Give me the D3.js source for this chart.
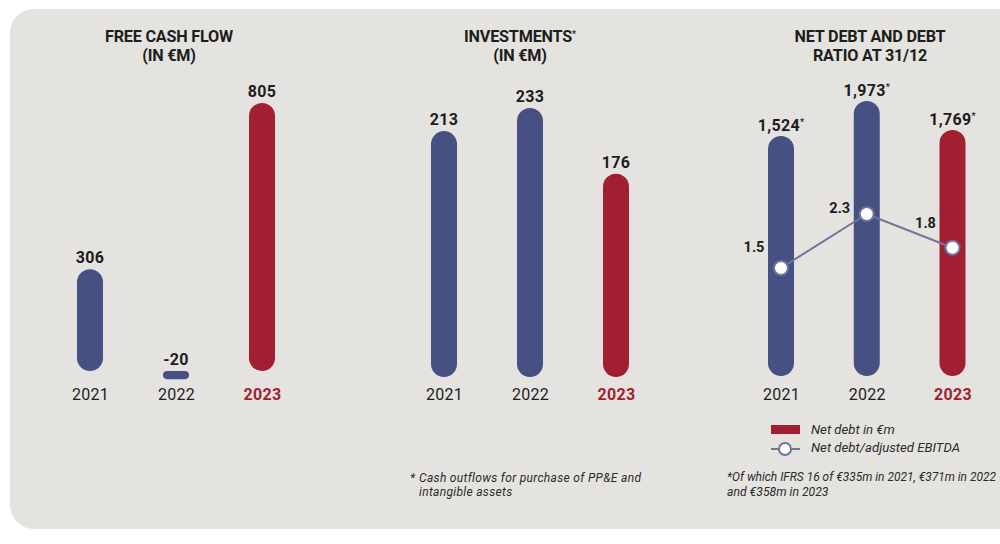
<!DOCTYPE html>
<html>
<head>
<meta charset="utf-8">
<script src="https://cdn.jsdelivr.net/npm/d3@7"></script>
<style>
  html, body { margin: 0; padding: 0; background: #fff; }
  svg { display: block; }
  text { font-family: Roboto, sans-serif; fill: #1d1d1b; }
</style>
</head>
<body>
<svg id="chart" width="1000" height="544"></svg>
<script>
const years = ['2021', '2022', '2023'];

const cashFlow = [306, -20, 805];
const cashFlowLabels = ['306', '-20', '805'];

const investments = [213, 233, 176];
const investmentLabels = ['213', '233', '176'];

// bar lengths as drawn in the picture: the 2021 bar is longer than its printed 1,524
const netDebtBars = [1722, 1973, 1765];
const netDebtLabels = ['1,524', '1,973', '1,769'];

const debtRatio = [1.5, 2.3, 1.8];
const debtRatioLabels = ['1.5', '2.3', '1.8'];

const BLUE = '#475082';
const RED = '#a11f30';
const LINE = '#6f7499';

const svg = d3.select('#chart');

svg.append('rect')
    .attr('x', 10).attr('y', 9)
    .attr('width', 1040).attr('height', 520)
    .attr('rx', 24)
    .attr('fill', '#e4e3e0');

let barColor = (i) => i === 2 ? RED : BLUE;

let drawTitle = (cx, lines, star) => {
    lines.forEach((l, i) => {
        let t = svg.append('text')
            .attr('x', cx).attr('y', 41.5 + i * 19.5)
            .attr('text-anchor', 'middle')
            .style('font-size', '16.2px')
            .style('font-weight', 700)
            .style('letter-spacing', '-0.2px')
            .text(l);
        if (star && i === 0) {
            t.append('tspan')
                .attr('dy', -5)
                .style('font-size', '9px')
                .text('*');
        }
    });
};

let drawPanel = (opts) => {
    let x = d3.scalePoint().domain(years).range(opts.xRange);
    let y = d3.scaleLinear().domain([0, opts.max]).range([opts.base, opts.top]);
    let w = 26;

    let g = svg.append('g');

    g.selectAll('rect')
        .data(opts.values)
        .join('rect')
        .attr('x', (d, i) => x(years[i]) - w / 2)
        .attr('y', d => Math.min(y(d), y(0)))
        .attr('width', w)
        .attr('height', d => Math.abs(y(d) - y(0)) + (d < 0 ? 1.5 : 0))
        .attr('rx', d => Math.min(13, (Math.abs(y(d) - y(0)) + (d < 0 ? 1.5 : 0)) / 2))
        .attr('fill', (d, i) => barColor(i));

    g.selectAll('text.val')
        .data(opts.values)
        .join('text')
        .attr('class', 'val')
        .attr('x', (d, i) => x(years[i]))
        .attr('y', d => Math.min(y(d), y(0)) - opts.labelGap)
        .attr('text-anchor', 'middle')
        .style('font-size', '16px')
        .style('font-weight', 700)
        .style('letter-spacing', '0.3px')
        .each(function (d, i) {
            let t = d3.select(this).text(opts.labels[i]);
            if (opts.star) {
                t.append('tspan')
                    .attr('dy', -6)
                    .style('font-size', '9px')
                    .text('*');
            }
        });

    let axis = svg.append('g')
        .attr('transform', `translate(0,${opts.axisY})`)
        .call(d3.axisBottom(x).tickSize(0).tickPadding(0));
    axis.select('.domain').remove();
    axis.selectAll('text')
        .attr('dy', '1em')
        .style('font-family', 'Roboto, sans-serif')
        .style('font-size', '16px')
        .style('letter-spacing', '0.3px')
        .style('font-weight', (d, i) => i === 2 ? 700 : 400)
        .style('fill', (d, i) => i === 2 ? RED : '#1d1d1b');

    return x;
};

drawTitle(169, ['FREE CASH FLOW', '(IN €M)']);
drawPanel({
    xRange: [90, 262], values: cashFlow, labels: cashFlowLabels,
    max: 805, base: 371, top: 103, axisY: 384, labelGap: 6
});

drawTitle(520, ['INVESTMENTS', '(IN €M)'], true);
drawPanel({
    xRange: [444, 616], values: investments, labels: investmentLabels,
    max: 233, base: 377, top: 108, axisY: 384, labelGap: 6
});

drawTitle(870, ['NET DEBT AND DEBT', 'RATIO AT 31/12']);
let x3 = drawPanel({
    xRange: [781, 952.5], values: netDebtBars, labels: netDebtLabels,
    max: 1973, base: 376, top: 101, axisY: 384, labelGap: 5, star: true
});

// ratio line on its own scale, over the bars
let yRatio = d3.scaleLinear().domain([0, 2.3]).range([369.25, 214]);
let ratioLine = d3.line()
    .x((d, i) => x3(years[i]))
    .y(d => yRatio(d));

svg.append('path')
    .datum(debtRatio)
    .attr('d', ratioLine)
    .attr('fill', 'none')
    .attr('stroke', LINE)
    .attr('stroke-width', 2);

svg.selectAll('circle.ratio')
    .data(debtRatio)
    .join('circle')
    .attr('class', 'ratio')
    .attr('cx', (d, i) => x3(years[i]))
    .attr('cy', d => yRatio(d))
    .attr('r', 7)
    .attr('fill', '#fff')
    .attr('stroke', LINE)
    .attr('stroke-width', 2);

// each ratio label sits at its own height next to its marker
let ratioLabelGap = [16, 1, 20];

svg.selectAll('text.ratio')
    .data(debtRatio)
    .join('text')
    .attr('class', 'ratio')
    .attr('x', (d, i) => x3(years[i]) - 27)
    .attr('y', (d, i) => yRatio(d) - ratioLabelGap[i])
    .attr('text-anchor', 'middle')
    .style('font-size', '14.5px')
    .style('font-weight', 700)
    .text((d, i) => debtRatioLabels[i]);

// legend
svg.append('rect')
    .attr('x', 771).attr('y', 425)
    .attr('width', 29).attr('height', 9)
    .attr('fill', RED);
svg.append('line')
    .attr('x1', 771).attr('x2', 800)
    .attr('y1', 449).attr('y2', 449)
    .attr('stroke', LINE)
    .attr('stroke-width', 2);
svg.append('circle')
    .attr('cx', 785).attr('cy', 449).attr('r', 6)
    .attr('fill', '#fff')
    .attr('stroke', LINE)
    .attr('stroke-width', 2);

let note = (x, y, s, size, spacing) => {
    svg.append('text')
        .attr('x', x).attr('y', y)
        .style('font-size', size + 'px')
        .style('font-style', 'italic')
        .style('letter-spacing', spacing + 'px')
        .style('fill', '#2b2b2a')
        .text(s);
};

note(811, 434, 'Net debt in €m', 13.2, 0);
note(811, 452, 'Net debt/adjusted EBITDA', 13.2, 0);
note(410, 482, '*', 12, 0);
note(419, 482, 'Cash outflows for purchase of PP&E and', 12, 0.32);
note(419, 496, 'intangible assets', 12, 0.32);
note(727, 481, '*Of which IFRS 16 of €335m in 2021, €371m in 2022', 11.95, 0);
note(727, 496, 'and €358m in 2023', 12.2, 0);
</script>
</body>
</html>
